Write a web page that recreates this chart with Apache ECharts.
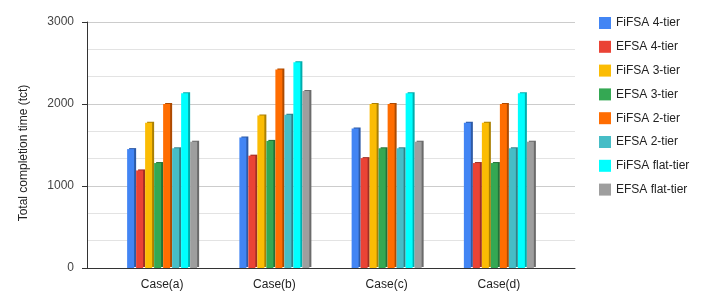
<!DOCTYPE html>
<html><head><meta charset="utf-8">
<script src="https://cdn.jsdelivr.net/npm/echarts@6/dist/echarts.min.js"></script>
<style>html,body{margin:0;padding:0;background:#fff}#c{width:702px;height:307px}</style>
</head><body><div id="c"></div>
<script>
const categories = ['Case(a)', 'Case(b)', 'Case(c)', 'Case(d)'];
const seriesNames = ['FiFSA 4-tier','EFSA 4-tier','FiFSA 3-tier','EFSA 3-tier','FiFSA 2-tier','EFSA 2-tier','FiFSA flat-tier','EFSA flat-tier'];
const fifsa4 = [1450, 1590, 1700, 1770];
const efsa4 = [1190, 1370, 1340, 1280];
const fifsa3 = [1770, 1860, 2000, 1770];
const efsa3 = [1280, 1550, 1460, 1280];
const fifsa2 = [2000, 2420, 2000, 2000];
const efsa2 = [1460, 1870, 1460, 1460];
const fifsaFlat = [2130, 2510, 2130, 2130];
const efsaFlat = [1540, 2160, 1540, 1540];
const yTicks = [0, 1000, 2000, 3000];
const colors = ['#4285F4','#EA4335','#FBBC04','#34A853','#FF6D01','#46BDC6','#00FFFF','#9E9E9E'];
const values = [fifsa4, efsa4, fifsa3, efsa3, fifsa2, efsa2, fifsaFlat, efsaFlat];

function darken(hex, f) {
  const n = parseInt(hex.slice(1), 16);
  const r = Math.round(((n >> 16) & 255) * f), g = Math.round(((n >> 8) & 255) * f), b = Math.round((n & 255) * f);
  return 'rgb(' + r + ',' + g + ',' + b + ')';
}
const font = 'Liberation Sans, Arial, sans-serif';
const chart = echarts.init(document.getElementById('c'), null, {renderer: 'canvas'});
chart.setOption({
  animation: false,
  color: colors,
  textStyle: {fontFamily: font},
  legend: {
    orient: 'vertical', left: 594, top: 12,
    itemWidth: 12, itemHeight: 12, itemGap: 11.8,
    icon: 'rect',
    textStyle: {fontSize: 12, color: '#222', fontFamily: font},
    data: seriesNames
  },
  grid: [
    {left: 87, right: 127, top: 22, bottom: 39},
    {left: 106, right: 147, top: 22, bottom: 39}
  ],
  xAxis: [
    {gridIndex: 0, type: 'value', min: 0, max: 1, axisLine: {show: true, lineStyle: {color: '#333', width: 1}}, axisTick: {show: false}, axisLabel: {show: false}, splitLine: {show: false}},
    {gridIndex: 1, type: 'category', data: categories, axisLine: {show: false}, axisTick: {show: false},
     axisLabel: {color: '#222', fontSize: 12, fontFamily: font, margin: 11}}
  ],
  yAxis: [
    {gridIndex: 0, type: 'value', min: yTicks[0], max: yTicks[yTicks.length - 1], interval: 1000,
     name: 'Total completion time (tct)', nameLocation: 'middle', nameGap: 57, nameRotate: 90,
     nameTextStyle: {color: '#222', fontSize: 12, fontFamily: font, padding: [0, 0, 0, -16]},
     axisLine: {show: true, lineStyle: {color: '#333'}},
     axisTick: {show: true, length: 5, lineStyle: {color: '#333'}},
     axisLabel: {color: '#444', fontSize: 12, fontFamily: font, margin: 13, formatter: v => String(v)},
     splitLine: {show: true, lineStyle: {color: '#cccccc'}},
     minorTick: {show: false, splitNumber: 3},
     minorSplitLine: {show: true, lineStyle: {color: '#e3e3e3'}}
    },
    {gridIndex: 1, type: 'value', min: 0, max: 3000, show: false, splitLine: {show: false}}
  ],
  series: seriesNames.map((name, i) => ({
    name: name, type: 'bar', xAxisIndex: 1, yAxisIndex: 1,
    data: values[i], barWidth: 7, barGap: '28.6%',
    itemStyle: {color: colors[i], shadowColor: darken(colors[i], 0.68), shadowBlur: 0, shadowOffsetX: 2, shadowOffsetY: -1}
  }))
});
</script></body></html>
